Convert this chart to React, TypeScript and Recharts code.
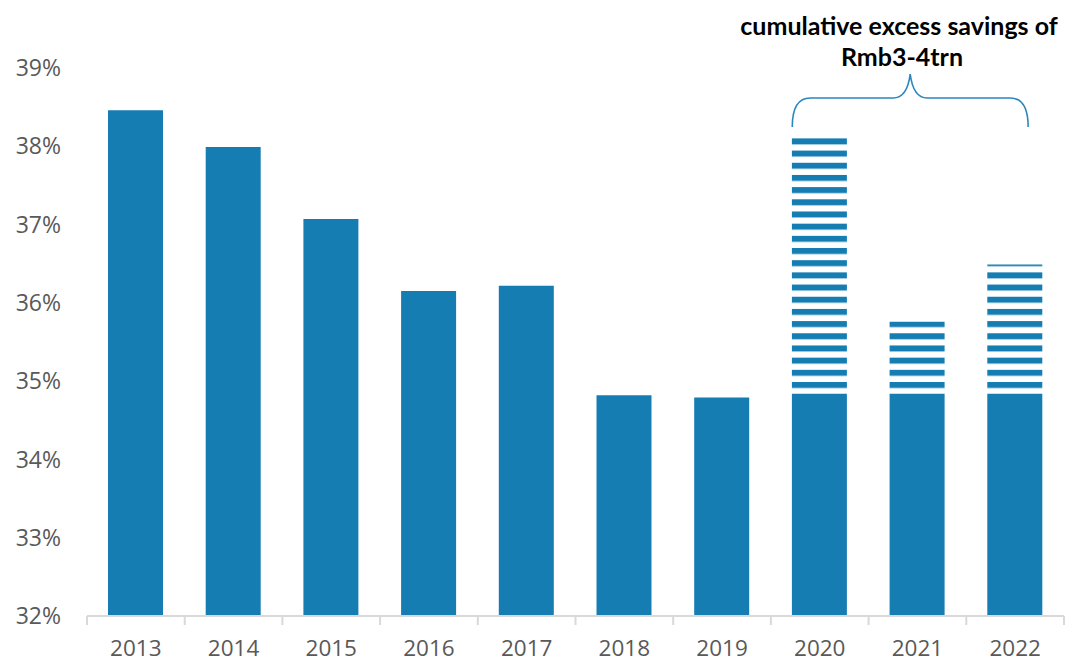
import React from 'react';
import { BarChart, Bar, XAxis, YAxis } from 'recharts';

// Household savings rate, % of disposable income
const categories = ['2013', '2014', '2015', '2016', '2017', '2018', '2019', '2020', '2021', '2022'];
const baseShare = [38.46, 37.99, 37.07, 36.15, 36.22, 34.82, 34.79, 34.84, 34.84, 34.84];
const excessShare: (number | null)[] = [null, null, null, null, null, null, null, 3.27, 0.92, 1.65];
const yTicks = [32, 33, 34, 35, 36, 37, 38, 39];

const data = categories.map((year, i) => ({
  year,
  base: baseShare[i],
  excess: excessShare[i],
}));

const BLUE = '#167DB3';
const AXIS_GREY = '#d9d9d9';
const TEXT_GREY = '#595959';

const W = 1066;
const H = 662;
const M_TOP = 68;
const M_RIGHT = 2;
const Y_AXIS_W = 87;
const X_AXIS_H = 46;
const PLOT_W = W - Y_AXIS_W - M_RIGHT;
const BAND = PLOT_W / categories.length;
const BAR_W = 55;
const TICK_MARGIN = 24;

const YearTick = (props: any) => {
  const { x, y, payload, index } = props;
  const axisY = y - TICK_MARGIN;
  return (
    <g>
      {index === 0 && (
        <line x1={x - BAND / 2} x2={x - BAND / 2} y1={axisY} y2={axisY + 9} stroke={AXIS_GREY} strokeWidth={2} />
      )}
      <line x1={x + BAND / 2} x2={x + BAND / 2} y1={axisY} y2={axisY + 9} stroke={AXIS_GREY} strokeWidth={2} />
      <text x={x} y={y} dy="0.71em" textAnchor="middle" fill={TEXT_GREY} fontSize={22.5} fontFamily="'Open Sans', sans-serif">
        {payload.value}
      </text>
    </g>
  );
};

export default function App() {
  const bandCenter = (i: number) => Y_AXIS_W + (i + 0.5) * BAND;
  // brace spans the 2020–2022 striped bars
  const bx0 = bandCenter(7) - BAR_W / 2;
  const bx1 = bandCenter(9) + 13;
  const bmid = (bx0 + bx1) / 2;
  const braceD = `M${bx0},127 Q${bx0},98 ${bx0 + 18},98 L${bmid - 17},98 Q${bmid - 3},98 ${bmid},74 Q${bmid + 3},98 ${bmid + 17},98 L${bx1 - 18},98 Q${bx1},98 ${bx1},127`;

  return (
    <div style={{ position: 'absolute', left: 0, top: 0, width: W, height: H, background: '#fff' }}>
      <svg width={0} height={0} style={{ position: 'absolute' }}>
        <defs>
          <pattern id="excessStripes" patternUnits="userSpaceOnUse" x={0} y={382} width={W} height={12.18}>
            <rect x={0} y={0} width={W} height={6} fill={BLUE} />
          </pattern>
        </defs>
      </svg>
      <BarChart
        width={W}
        height={H}
        data={data}
        margin={{ top: M_TOP, right: M_RIGHT, bottom: 0, left: 0 }}
        barSize={BAR_W}
      >
        <XAxis
          dataKey="year"
          height={X_AXIS_H}
          interval={0}
          axisLine={{ stroke: AXIS_GREY, strokeWidth: 2 }}
          tickLine={false}
          tickSize={0}
          tickMargin={TICK_MARGIN}
          tick={<YearTick />}
        />
        <YAxis
          domain={[32, 39]}
          ticks={yTicks}
          allowDataOverflow
          width={Y_AXIS_W}
          axisLine={false}
          tickLine={false}
          tickSize={0}
          tickMargin={26}
          tickFormatter={(v: number) => `${v}%`}
          tick={{ fill: TEXT_GREY, fontSize: 23, fontFamily: "'Open Sans', sans-serif" }}
        />
        <Bar dataKey="base" stackId="s" fill={BLUE} isAnimationActive={false} />
        <Bar dataKey="excess" stackId="s" fill="url(#excessStripes)" isAnimationActive={false} />
      </BarChart>
      <svg width={W} height={H} style={{ position: 'absolute', left: 0, top: 0, pointerEvents: 'none' }}>
        <path d={braceD} fill="none" stroke="#2b86be" strokeWidth={1.6} />
        <text x={899} y={35} textAnchor="middle" fontFamily="Lato, sans-serif" fontWeight={700} fontSize={25} fill="#000">
          cumulative excess savings of
        </text>
        <text x={902} y={66} textAnchor="middle" fontFamily="Lato, sans-serif" fontWeight={700} fontSize={25} fill="#000">
          Rmb3-4trn
        </text>
      </svg>
    </div>
  );
}
